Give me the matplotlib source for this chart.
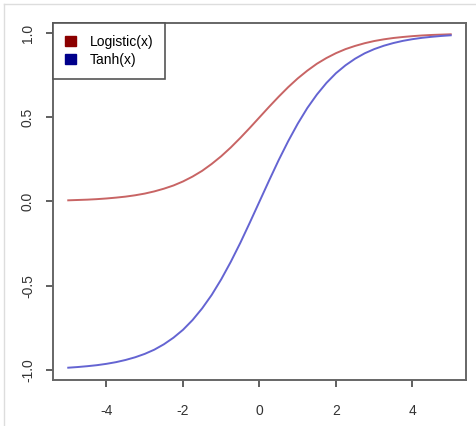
import matplotlib.pyplot as plt
from matplotlib.patches import Patch
from matplotlib.lines import Line2D

plt.rcParams['font.family'] = ['Liberation Sans', 'DejaVu Sans']

# values
x_vals = [-5, -4.75, -4.5, -4.25, -4, -3.75, -3.5, -3.25, -3, -2.75, -2.5,
          -2.25, -2, -1.75, -1.5, -1.25, -1, -0.75, -0.5, -0.25, 0,
          0.25, 0.5, 0.75, 1, 1.25, 1.5, 1.75, 2, 2.25, 2.5,
          2.75, 3, 3.25, 3.5, 3.75, 4, 4.25, 4.5, 4.75, 5]
logistic_vals = [0.007, 0.009, 0.011, 0.014, 0.018, 0.023, 0.029, 0.037, 0.047, 0.060, 0.076,
                 0.095, 0.119, 0.148, 0.182, 0.223, 0.269, 0.321, 0.378, 0.438, 0.500,
                 0.562, 0.622, 0.679, 0.731, 0.777, 0.818, 0.852, 0.881, 0.905, 0.924,
                 0.940, 0.953, 0.963, 0.971, 0.977, 0.982, 0.986, 0.989, 0.991, 0.993]
tanh_vals = [-0.987, -0.983, -0.978, -0.972, -0.964, -0.954, -0.941, -0.925, -0.905, -0.880, -0.848,
             -0.809, -0.762, -0.704, -0.635, -0.555, -0.462, -0.358, -0.245, -0.124, 0.000,
             0.124, 0.245, 0.358, 0.462, 0.555, 0.635, 0.704, 0.762, 0.809, 0.848,
             0.880, 0.905, 0.925, 0.941, 0.954, 0.964, 0.972, 0.978, 0.983, 0.987]
legend_labels = ['Logistic(x)', 'Tanh(x)']
x_ticks = [-4, -2, 0, 2, 4]
y_ticks = [-1.0, -0.5, 0.0, 0.5, 1.0]


def main():
    fig = plt.figure(figsize=(4.77, 4.26), dpi=100)
    ax = fig.add_axes([0.111, 0.108, 0.866, 0.838])

    ax.plot(x_vals, logistic_vals, color='#c86464', lw=1.4)
    ax.plot(x_vals, tanh_vals, color='#6464d2', lw=1.4)

    ax.set_xlim(-5.4, 5.4)
    ax.set_ylim(-1.06, 1.06)
    ax.set_xticks(x_ticks)
    ax.set_xticklabels(['-4', '-2', '0', '2', '4'])
    ax.set_yticks(y_ticks)
    ax.set_yticklabels(['-1.0', '-0.5', '0.0', '0.5', '1.0'], rotation=90, va='center')
    ax.tick_params(colors='#444444', labelcolor='#333333', labelsize=10, length=5, width=1.2)
    ax.tick_params(axis='x', pad=12)
    ax.tick_params(axis='y', pad=8)
    for s in ax.spines.values():
        s.set_color('#666666')
        s.set_linewidth(1.4)

    handles = [Patch(facecolor='#8b0000', edgecolor='#8b0000'),
               Patch(facecolor='#00008b', edgecolor='#00008b')]
    leg = ax.legend(handles, legend_labels, loc='upper left', borderaxespad=0,
                    fancybox=False, fontsize=10, handlelength=0.8, handleheight=0.8,
                    handletextpad=1.0, borderpad=0.85, labelspacing=0.3, framealpha=1)
    leg.get_frame().set_edgecolor('#555555')
    leg.get_frame().set_linewidth(1.2)

    # faint screenshot border
    fig.add_artist(Line2D([0.008, 1], [0.99, 0.99], color='#dddddd', lw=1, transform=fig.transFigure))
    fig.add_artist(Line2D([0.008, 0.008], [0, 0.99], color='#dddddd', lw=1, transform=fig.transFigure))

    fig.savefig('out.png', dpi=100)


if __name__ == "__main__":
    main()
